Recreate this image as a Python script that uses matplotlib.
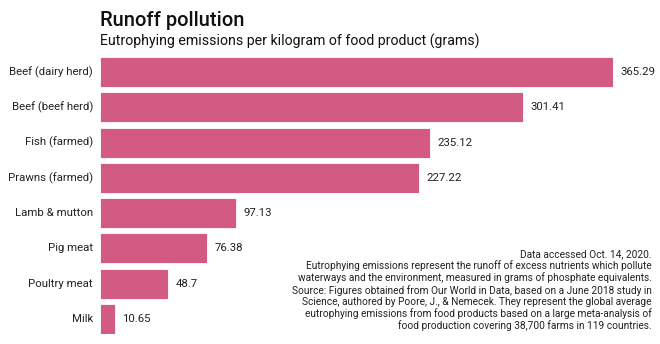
import matplotlib.pyplot as plt

plt.rcParams['font.family'] = ['Roboto', 'DejaVu Sans']

foods = ["Beef (dairy herd)", "Beef (beef herd)", "Fish (farmed)", "Prawns (farmed)",
         "Lamb & mutton", "Pig meat", "Poultry meat", "Milk"]
emissions = [365.29, 301.41, 235.12, 227.22, 97.13, 76.38, 48.7, 10.65]
value_labels = ["365.29", "301.41", "235.12", "227.22", "97.13", "76.38", "48.7", "10.65"]

note = ("Data accessed Oct. 14, 2020.\n"
        "Eutrophying emissions represent the runoff of excess nutrients which pollute\n"
        "waterways and the environment, measured in grams of phosphate equivalents.\n"
        "Source: Figures obtained from Our World in Data, based on a June 2018 study in\n"
        "Science, authored by Poore, J., & Nemecek. They represent the global average\n"
        "eutrophying emissions from food products based on a large meta-analysis of\n"
        "food production covering 38,700 farms in 119 countries.")

W, H = 660, 344
fig = plt.figure(figsize=(W / 100, H / 100), dpi=100)
ax = fig.add_axes([100 / W, (H - 334) / H, 513 / W, 277 / H])

pos = list(range(len(foods)))
ax.barh(pos, emissions, height=0.85, color="#d35a83", edgecolor="white", linewidth=0.6)
ax.set_xlim(0, 365.29)
ax.set_ylim(7.425, -0.425)
ax.axis("off")

for y, v, lab, name in zip(pos, emissions, value_labels, foods):
    ax.annotate(lab, (v, y), xytext=(5, 0), textcoords="offset points",
                va="center", ha="left", fontsize=8.2, color="#222222", annotation_clip=False)
    ax.annotate(name, (0, y), xytext=(-5, 0), textcoords="offset points",
                va="center", ha="right", fontsize=8.2, color="#222222", annotation_clip=False)

fig.text(100 / W, 1 - 20 / H, "Runoff pollution", fontsize=14.5, fontweight="medium",
         va="center", ha="left", color="#111111")
fig.text(100 / W, 1 - 41 / H, "Eutrophying emissions per kilogram of food product (grams)",
         fontsize=10.2, va="center", ha="left", color="#111111")

fig.text(652 / W, 1 - 249 / H, note, fontsize=7.3, ha="right", va="top",
         linespacing=1.15, color="#222222")

fig.savefig("out.png", dpi=100, facecolor="white")
